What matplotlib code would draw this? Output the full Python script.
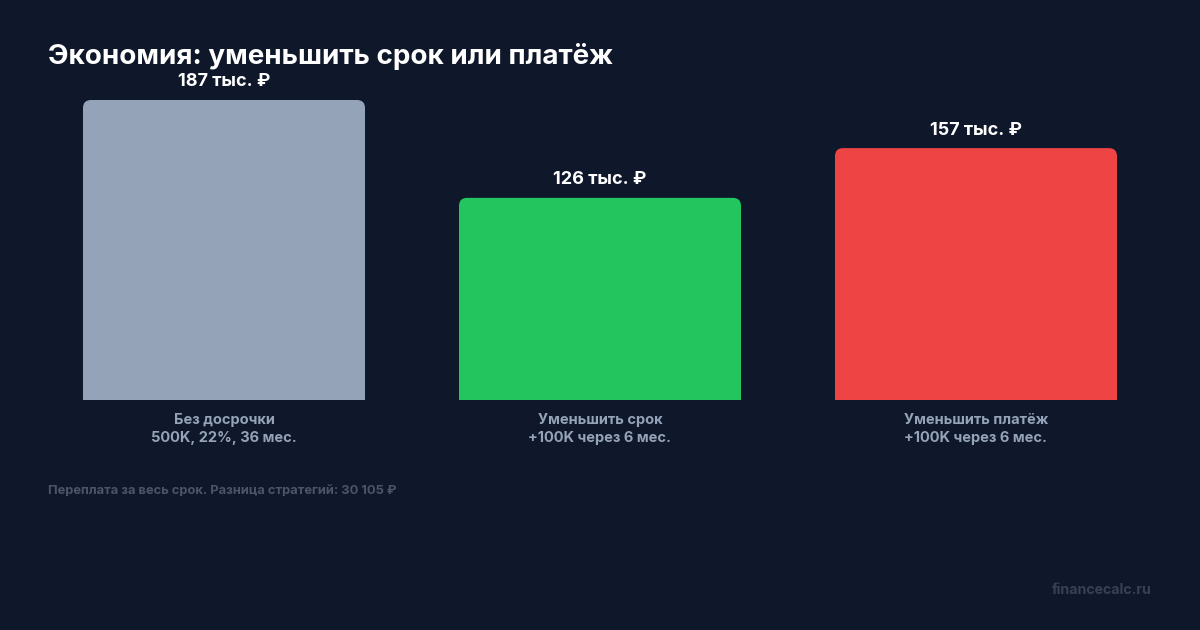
import matplotlib.pyplot as plt
from matplotlib.patches import FancyBboxPatch, Rectangle

plt.rcParams["font.family"] = ["Inter", "DejaVu Sans"]

# data
categories = ["Без досрочки\n500K, 22%, 36 мес.",
              "Уменьшить срок\n+100K через 6 мес.",
              "Уменьшить платёж\n+100K через 6 мес."]
overpay = [187, 126, 157]  # тыс. руб
value_labels = ["187 тыс. ₽", "126 тыс. ₽", "157 тыс. ₽"]
colors = ["#94a3b8", "#22c55e", "#ef4444"]

title = "Экономия: уменьшить срок или платёж"
note = "Переплата за весь срок. Разница стратегий: 30 105 ₽"
source = "financecalc.ru"

BG = "#0f172a"
W, H = 1200, 630

fig = plt.figure(figsize=(12, 6.3), dpi=100, facecolor=BG)

# axes in pixels: left 36, right 1164, baseline at y=400 (from top)
ax_left, ax_right = 36, 1164
ax_bottom = H - 400
ax_h = 310
ax = fig.add_axes([ax_left / W, ax_bottom / H, (ax_right - ax_left) / W, ax_h / H])
ax.set_facecolor(BG)
ymax = max(overpay) * ax_h / 300
ax.set_xlim(-0.5, 2.5)
ax.set_ylim(0, ymax)
ax.axis("off")

bw = 0.75
x_per_px = 3 / (ax_right - ax_left)
y_per_px = ymax / ax_h
r = 8 * x_per_px
for i, (v, c, lab) in enumerate(zip(overpay, colors, value_labels)):
    x0 = i - bw / 2
    ax.add_patch(FancyBboxPatch((x0, 0), bw, v,
                                boxstyle=f"round,pad=0,rounding_size={r}",
                                mutation_aspect=y_per_px / x_per_px,
                                fc=c, ec="none"))
    ax.add_patch(Rectangle((x0, 0), bw, v / 2, fc=c, ec="none"))
    ax.annotate(lab, (i, v), xytext=(0, 18), textcoords="offset pixels",
                ha="center", va="center", color="white",
                fontsize=13, fontweight="bold")
    ax.annotate(categories[i], (i, 0), xytext=(0, -29), textcoords="offset pixels",
                ha="center", va="center", color="#94a3b8",
                fontsize=10.5, fontweight="bold", linespacing=1.35)

fig.text(48 / W, 1 - 57 / H, title, color="white", fontsize=20,
         fontweight="bold", ha="left", va="center")
fig.text(48 / W, 1 - 491 / H, note, color="#4b5568", fontsize=9.3,
         fontweight="bold", ha="left", va="center")
fig.text(1152 / W, 1 - 590 / H, source, color="#364152", fontsize=10.2,
         fontweight="bold", ha="right", va="center")

fig.savefig("out.png", dpi=100, facecolor=BG)
